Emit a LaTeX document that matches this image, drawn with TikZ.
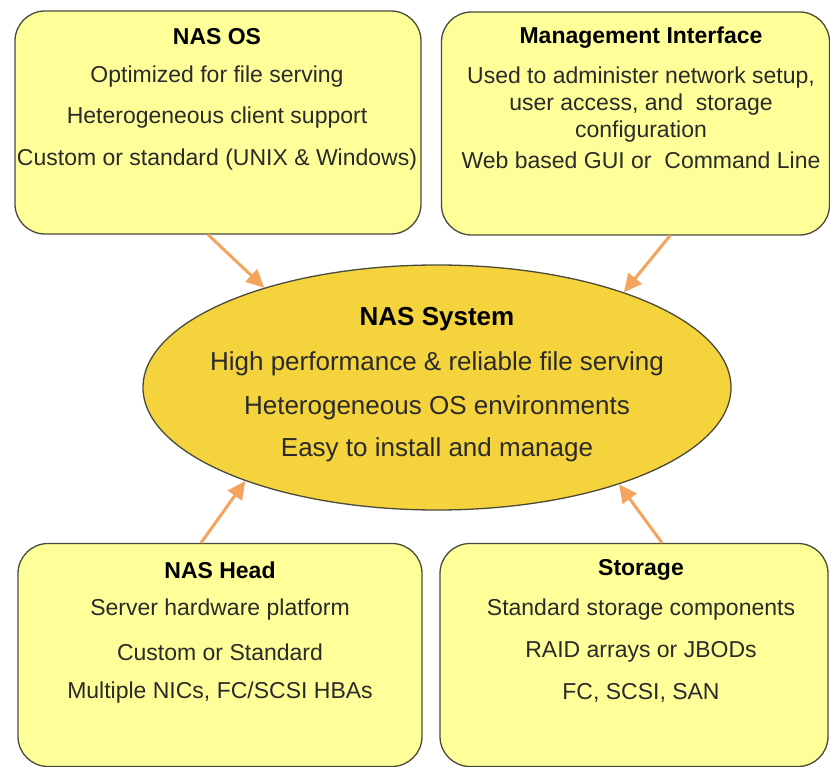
\documentclass[tikz,border=0pt]{standalone}
\usepackage{fontspec}
\setmainfont{Liberation Sans}
\usetikzlibrary{shapes.geometric,arrows.meta}
\definecolor{boxfill}{HTML}{FFFF99}
\definecolor{ellfill}{HTML}{F5D33C}
\definecolor{edgecol}{HTML}{4A4A3A}
\definecolor{arrowcol}{HTML}{F4A45C}
\definecolor{txtcol}{HTML}{2A2A2A}
\tikzset{
  infobox/.style={draw=edgecol, line width=1.3pt, fill=boxfill, rounded corners=30pt,
    inner sep=0pt, minimum width=#1, minimum height=223pt},
  sysell/.style={ellipse, draw=edgecol, line width=1.3pt, fill=ellfill, inner sep=0pt,
    minimum width=588pt, minimum height=245pt},
  boxtitle/.style={font=\fontsize{23}{27}\selectfont\bfseries, text=black, inner sep=0pt},
  boxtext/.style={font=\fontsize{23}{27}\selectfont, text=txtcol, inner sep=0pt, align=center},
  elltitle/.style={font=\fontsize{26}{30}\selectfont\bfseries, text=black, inner sep=0pt},
  elltext/.style={font=\fontsize{26}{30}\selectfont, text=txtcol, inner sep=0pt},
  feed/.style={draw=arrowcol, line width=3pt, -{Triangle[length=18pt,width=17pt]}}
}
\begin{document}
\begin{tikzpicture}[x=1pt,y=-1pt]
\useasboundingbox (0,0) rectangle (830,767);
% boxes
\node[infobox=406pt] (nasos) at (218,122.5) {};
\node[infobox=388pt] (mgmt) at (635.5,123.5) {};
\node[infobox=404pt] (head) at (220,655) {};
\node[infobox=388pt] (stor) at (634,655) {};
\node[sysell] (sys) at (437,387.5) {};
% NAS OS text
\node[boxtitle] (t1) at (217,37) {NAS OS};
\node[boxtext] (t1a) at (217,77) {Optimized for file serving};
\node[boxtext] (t1b) at (217,118) {Heterogeneous client support};
\node[boxtext] (t1c) at (217,160) {Custom or standard (UNIX \& Windows)};
% Management text
\node[boxtitle] (t2) at (641,38) {Management Interface};
\node[boxtext] (t2a) at (641,78) {Used to administer network setup,};
\node[boxtext] (t2b) at (641,105) {user access, and\ \ storage};
\node[boxtext] (t2c) at (641,132) {configuration};
\node[boxtext] (t2d) at (641,160) {Web based GUI or\ \ Command Line};
% NAS System text
\node[elltitle] (t3) at (437,319) {NAS System};
\node[elltext] (t3a) at (437,364) {High performance \& reliable file serving};
\node[elltext] (t3b) at (437,408) {Heterogeneous OS environments};
\node[elltext] (t3c) at (437,450) {Easy to install and manage};
% NAS Head text
\node[boxtitle] (t4) at (220,570) {NAS Head};
\node[boxtext] (t4a) at (220,610) {Server hardware platform};
\node[boxtext] (t4b) at (220,652) {Custom or Standard};
\node[boxtext] (t4c) at (220,693) {Multiple NICs, FC/SCSI HBAs};
% Storage text
\node[boxtitle] (t5) at (641,570) {Storage};
\node[boxtext] (t5a) at (641,610) {Standard storage components};
\node[boxtext] (t5b) at (641,652) {RAID arrays or JBODs};
\node[boxtext] (t5c) at (641,693) {FC, SCSI, SAN};
% connectors
\draw[feed] ([xshift=-10pt]nasos.south) -- (sys.150.6);
\draw[feed] ([xshift=34.5pt]mgmt.south) -- (sys.27.7);
\draw[feed] ([xshift=-19pt]head.north) -- (sys.206.8);
\draw[feed] ([xshift=28pt]stor.north) -- (sys.332.1);
\end{tikzpicture}
\end{document}
